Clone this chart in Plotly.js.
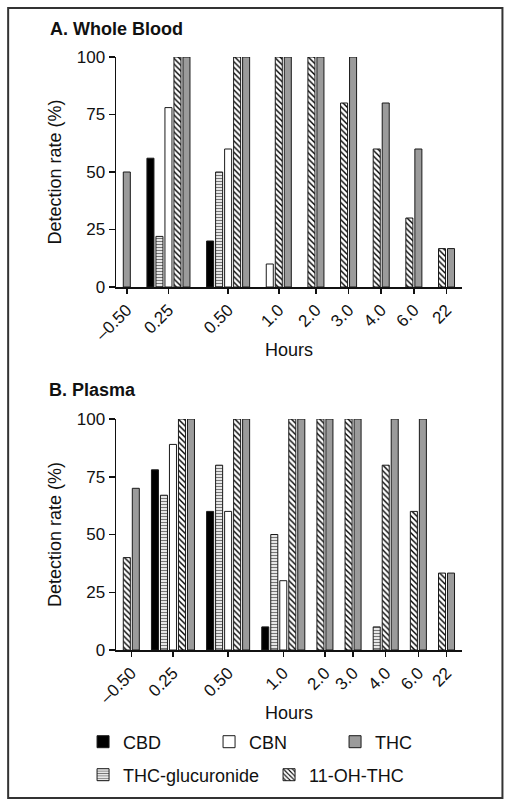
<!DOCTYPE html>
<html><head><meta charset="utf-8">
<script src="https://cdn.plot.ly/plotly-3.0.1.min.js"></script>
<style>html,body{margin:0;padding:0;background:#fff}#chart{width:512px;height:807px}</style>
</head><body><div id="chart"></div>
<script>
// ---- data ----
const hours = ["\u20130.50","0.25","0.50","1.0","2.0","3.0","4.0","6.0","22"];
const seriesNames = ["CBD","THC-glucuronide","CBN","11-OH-THC","THC"];
// A. Whole blood detection rate (%)
const bloodCBD  = [0,56,20,0,0,0,0,0,0];
const bloodGluc = [0,22,50,0,0,0,0,0,0];
const bloodCBN  = [0,78,60,10,0,0,0,0,0];
const bloodOH   = [0,100,100,100,100,80,60,30,16.7];
const bloodTHC  = [50,100,100,100,100,100,80,60,16.7];
// B. Plasma detection rate (%)
const plasmaCBD  = [0,78,60,10,0,0,0,0,0];
const plasmaGluc = [0,67,80,50,0,0,10,0,0];
const plasmaCBN  = [0,89,60,30,0,0,0,0,0];
const plasmaOH   = [40,100,100,100,100,100,80,60,33.3];
const plasmaTHC  = [70,100,100,100,100,100,100,100,33.3];
const yTicks = [0,25,50,75,100];

// ---- geometry helpers ----
const W = 512, H = 807;
const L = 116, R = 49.5, T = 57, B = 157;
const pw = W - L - R, ph = H - T - B;
const px = x => (x - L) / pw;
const py = y => (H - B - y) / ph;
const SPAN = 37;          // width of the bar clusters in slot units
const BARW = 0.78;

function layoutGroups(panel) {
  const n = hours.map((_, i) => panel.filter(s => s[i] > 0).length);
  const total = n.reduce((a, b) => a + b, 0);
  const gap = (SPAN - total) / (hours.length - 1);
  const xs = panel.map(() => []), ys = panel.map(() => []);
  const centers = [];
  let s = 0;
  hours.forEach((h, i) => {
    let j = 0;
    panel.forEach((ser, k) => {
      if (ser[i] > 0) { xs[k].push(s + j + 0.5); ys[k].push(ser[i]); j++; }
    });
    centers.push(s + n[i] / 2);
    s += n[i] + gap;
  });
  return {xs, ys, centers};
}

const styles = [
  {color: '#000000'},
  {color: '#ffffff', pattern: {shape: '-', fgcolor: '#777777', bgcolor: '#ffffff', size: 3, solidity: 0.45}},
  {color: '#ffffff'},
  {color: '#ffffff', pattern: {shape: '\\', fgcolor: '#000000', bgcolor: '#ffffff', size: 4, solidity: 0.35}},
  {color: '#9b9b9b'}
];
const legendOf = ['legend', 'legend2', 'legend', 'legend2', 'legend'];

const panels = [
  [bloodCBD, bloodGluc, bloodCBN, bloodOH, bloodTHC],
  [plasmaCBD, plasmaGluc, plasmaCBN, plasmaOH, plasmaTHC]
];

const traces = [];
const centersAll = [];
panels.forEach((panel, p) => {
  const g = layoutGroups(panel);
  centersAll.push(g.centers);
  panel.forEach((ser, k) => {
    const marker = {color: styles[k].color, line: {color: '#1a1a1a', width: 1}};
    if (styles[k].pattern) marker.pattern = styles[k].pattern;
    traces.push({
      type: 'bar', name: seriesNames[k], x: g.xs[k], y: g.ys[k], width: BARW,
      xaxis: p === 0 ? 'x' : 'x2', yaxis: p === 0 ? 'y' : 'y2',
      marker: marker, showlegend: p === 0, legend: legendOf[k], hoverinfo: 'y'
    });
  });
});

const font = {family: '"Liberation Sans", Arial, Helvetica, sans-serif', color: '#111111'};
function xAxis(centers, anchor) {
  return {
    anchor: anchor, domain: [0, 1], range: [-0.7, SPAN + 0.72],
    tickmode: 'array', tickvals: centers, ticktext: hours, tickangle: -45,
    ticks: 'outside', ticklen: 5, tickwidth: 1.5, tickcolor: '#111',
    showline: true, linewidth: 1.5, linecolor: '#111', showgrid: false, zeroline: false,
    tickfont: {size: 17}, title: {text: 'Hours', font: {size: 18}, standoff: 0}, fixedrange: true
  };
}
function yAxis(domain, anchor) {
  return {
    anchor: anchor, domain: domain, range: [0, 100],
    tickmode: 'array', tickvals: yTicks, ticktext: yTicks.map(String),
    ticks: 'outside', ticklen: 6, tickwidth: 1.5, tickcolor: '#111',
    showline: true, linewidth: 1.5, linecolor: '#111', showgrid: false, zeroline: false,
    tickfont: {size: 17}, title: {text: 'Detection rate (%)', font: {size: 18}, standoff: 10}, fixedrange: true
  };
}

const layout = {
  width: W, height: H, margin: {l: L, r: R, t: T, b: B},
  paper_bgcolor: '#ffffff', plot_bgcolor: '#ffffff', font: font,
  barmode: 'overlay',
  xaxis: xAxis(centersAll[0], 'y'),
  yaxis: yAxis([py(287), 1], 'x'),
  xaxis2: xAxis(centersAll[1], 'y2'),
  yaxis2: yAxis([0, py(419)], 'x2'),
  legend: {orientation: 'h', x: px(83), xanchor: 'left', y: py(742), yanchor: 'middle',
           entrywidth: 81, font: {size: 18}, bgcolor: 'rgba(0,0,0,0)', itemwidth: 30},
  legend2: {orientation: 'h', x: px(83), xanchor: 'left', y: py(775), yanchor: 'middle',
           entrywidth: 141, font: {size: 18}, bgcolor: 'rgba(0,0,0,0)', itemwidth: 30},
  annotations: [
    {text: '<b>A. Whole Blood</b>', xref: 'paper', yref: 'paper', x: px(48), y: py(28.5),
     xanchor: 'left', yanchor: 'middle', showarrow: false, font: {size: 18}},
    {text: '<b>B. Plasma</b>', xref: 'paper', yref: 'paper', x: px(47), y: py(390),
     xanchor: 'left', yanchor: 'middle', showarrow: false, font: {size: 18}}
  ],
  shapes: [
    {type: 'rect', xref: 'paper', yref: 'paper', x0: px(8), x1: px(503), y0: py(798), y1: py(8),
     line: {color: '#333333', width: 2}, fillcolor: 'rgba(0,0,0,0)', layer: 'above'}
  ]
};

Plotly.newPlot('chart', traces, layout, {displayModeBar: false, staticPlot: true});
</script>
</body></html>
